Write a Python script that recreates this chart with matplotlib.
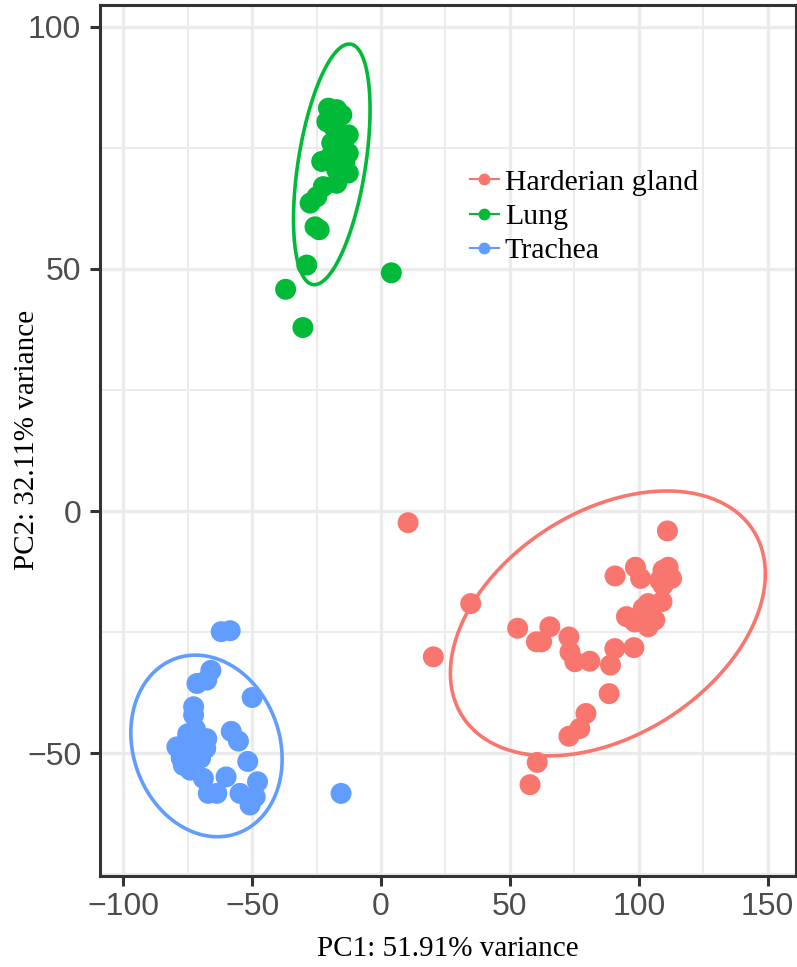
import numpy as np
import matplotlib
matplotlib.use("Agg")
import matplotlib.pyplot as plt
from matplotlib.lines import Line2D
from matplotlib.patches import Polygon
from matplotlib.ticker import MultipleLocator

# PCA scores
harderian_x = [10.5, 34.8, 20.3, 53.0, 60.3, 62.3, 65.5, 72.9, 73.3, 75.2, 81.0, 89.0, 90.7,
               98.1, 88.5, 79.5, 77.1, 72.9, 60.6, 57.8, 90.8, 98.7, 100.7, 111.1, 95.2,
               111.4, 112.7, 109.4, 109.4, 108.1, 109.0, 103.6, 101.7, 98.4, 103.6, 106.2, 104.0]
harderian_y = [-2.4, -19.1, -30.1, -24.2, -27.0, -27.0, -23.9, -26.0, -29.1, -31.1, -31.0, -31.8, -28.4,
               -28.2, -37.7, -41.8, -44.9, -46.5, -51.9, -56.5, -13.4, -11.6, -13.9, -4.1, -21.8,
               -11.6, -13.9, -15.3, -12.2, -14.3, -18.7, -19.1, -20.1, -22.9, -23.9, -22.5, -21.0]

lung_x = [4.0, -37.0, -30.3, -28.8, -24.0, -25.6, -27.5, -24.9, -22.4, -17.2, -12.7, -23.0,
          -12.7, -19.1, -12.7, -21.0, -15.2, -20.4, -17.2, -20.0, -17.2, -15.0, -18.0, -14.0]
lung_y = [49.2, 45.8, 37.9, 50.8, 58.1, 58.7, 63.6, 64.9, 67.0, 67.7, 69.8, 72.2,
          73.9, 76.0, 77.7, 80.4, 81.8, 83.2, 82.9, 73.0, 70.5, 75.0, 79.0, 72.0]

trachea_x = [-62.0, -58.5, -66.0, -71.4, -67.6, -50.0, -72.7, -72.7, -58.1, -55.3, -67.6, -79.2,
             -75.0, -72.0, -70.0, -73.0, -77.5, -76.7, -74.0, -70.0, -68.0, -51.7, -68.9, -60.1,
             -47.9, -67.0, -63.7, -54.7, -48.8, -50.8, -15.5]
trachea_y = [-24.9, -24.7, -32.9, -35.6, -34.9, -38.5, -40.4, -42.1, -45.5, -47.5, -47.0, -48.7,
             -46.0, -45.0, -47.7, -50.0, -51.0, -52.5, -53.5, -51.0, -49.0, -51.7, -55.2, -54.9,
             -55.9, -58.3, -58.3, -58.3, -59.0, -60.7, -58.3]

groups = ["Harderian gland", "Lung", "Trachea"]
colors = ["#F8766D", "#00BA38", "#619CFF"]
xs = [harderian_x, lung_x, trachea_x]
ys = [harderian_y, lung_y, trachea_y]

# 95% ellipses: centre and spread matrix (data units)
ell_cx = [88.0, -19.1, -67.7]
ell_cy = [-23.2, 71.6, -48.5]
ell_sxx = [3733.0, 220.5, 861.0]
ell_syy = [748.0, 617.5, 351.6]
ell_sxy = [626.0, 168.0, -80.0]


def ellipse_path(cx, cy, sxx, syy, sxy, segments=120):
    shape = np.array([[sxx, sxy], [sxy, syy]])
    ang = np.linspace(0, 2 * np.pi, segments, endpoint=False)
    circle = np.column_stack([np.cos(ang), np.sin(ang)])
    chol = np.linalg.cholesky(shape).T
    return np.array([cx, cy]) + circle @ chol


fig = plt.figure(figsize=(7.97, 9.67), dpi=100)
ax = fig.add_axes([0.1255, 0.0944, 0.8733, 0.9004])

for i, c in enumerate(colors):
    e = ellipse_path(ell_cx[i], ell_cy[i], ell_sxx[i], ell_syy[i], ell_sxy[i])
    ax.add_patch(Polygon(e, closed=True, fill=False, edgecolor=c, lw=2.6, zorder=2))
for gx, gy, c in zip(xs, ys, colors):
    ax.scatter(gx, gy, s=228, color=c, edgecolors="none", zorder=3)

ax.set_xlim(-109, 161)
ax.set_ylim(-75.3, 104.5)
ax.xaxis.set_major_locator(MultipleLocator(50))
ax.yaxis.set_major_locator(MultipleLocator(50))
ax.xaxis.set_minor_locator(MultipleLocator(25))
ax.yaxis.set_minor_locator(MultipleLocator(25))
ax.grid(which="major", color="#EBEBEB", lw=2.4, zorder=0)
ax.grid(which="minor", color="#EBEBEB", lw=1.4, zorder=0)
ax.set_axisbelow(True)
for s in ax.spines.values():
    s.set_color("#333333")
    s.set_linewidth(2.2)
    s.set_zorder(5)

ax.tick_params(which="major", length=7.5, width=2.2, color="#333333",
               labelsize=23, labelcolor="#4D4D4D")
ax.tick_params(axis="x", pad=4)
ax.tick_params(axis="y", pad=6)
ax.tick_params(which="minor", length=0)
for lab in ax.get_xticklabels() + ax.get_yticklabels():
    lab.set_family("Liberation Sans")

ax.set_xlabel("PC1: 51.91% variance", family="Liberation Serif", fontsize=21, va="center")
ax.set_ylabel("PC2: 32.11% variance", family="Liberation Serif", fontsize=21, va="center")
ax.xaxis.set_label_coords(0.5, -0.084)
ax.yaxis.set_label_coords(-0.105, 0.5)

handles = [Line2D([0], [0], color=c, lw=1.5, marker="o", markersize=7.5) for c in colors]
ax.legend(handles, groups, loc="upper left", bbox_to_anchor=(0.532, 0.812), frameon=False,
          prop={"family": "Liberation Serif", "size": 21.5}, handlelength=0.95,
          handletextpad=0.2, labelspacing=0.25, borderpad=0, borderaxespad=0)

fig.savefig("out.png", dpi=100)
